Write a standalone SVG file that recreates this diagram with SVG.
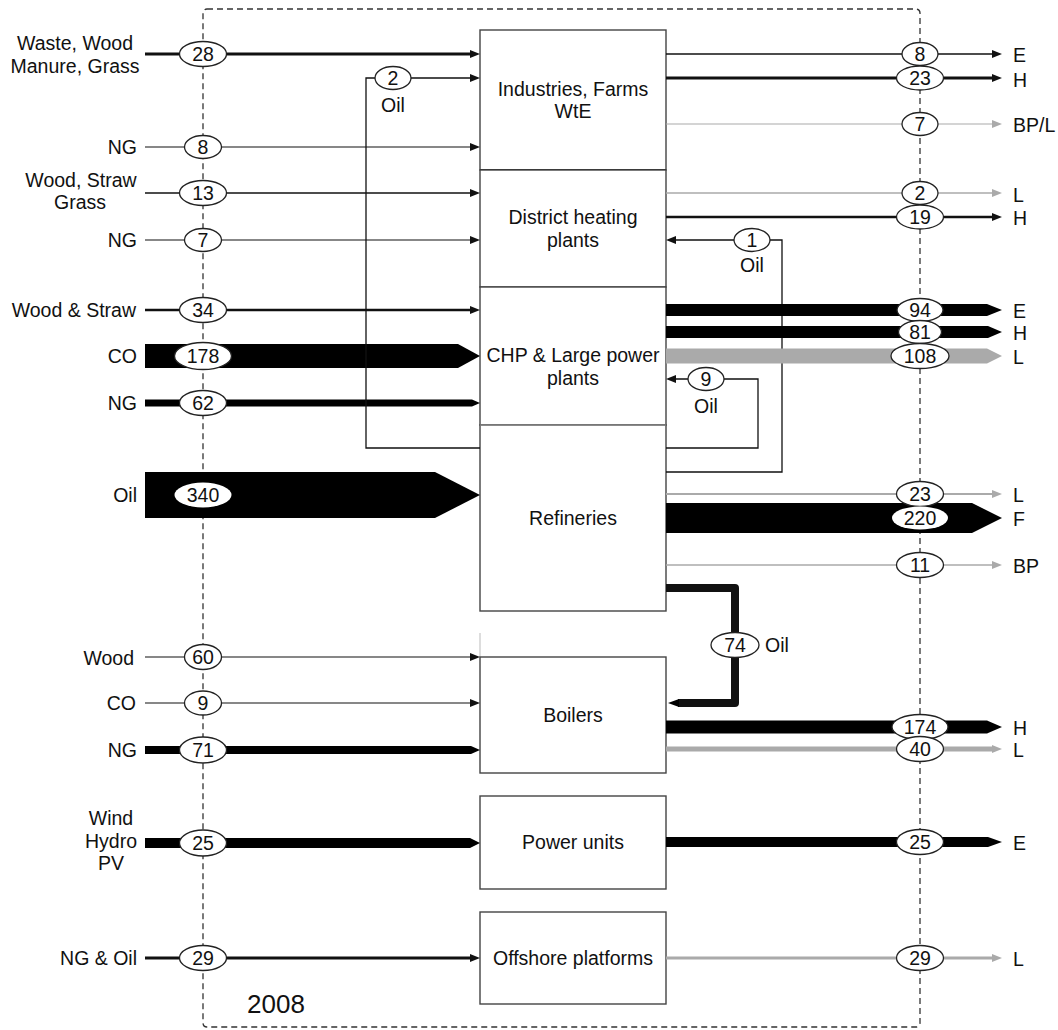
<svg xmlns="http://www.w3.org/2000/svg" width="1058" height="1030" viewBox="0 0 1058 1030">
<defs>
<style>
text{font-family:"Liberation Sans",Arial,sans-serif;font-size:19.5px;fill:#111}
.r{text-anchor:end}.m{text-anchor:middle}
.box{fill:#fff;stroke:#444;stroke-width:1.4}
.el{fill:#fff;stroke:#222;stroke-width:1.3}
.elw{fill:#fff;stroke:none}
.k{stroke:#111;fill:none}
.g{stroke:#aaa;fill:none}
.bk{fill:#000}
.bg{fill:#aaa}
.dash{fill:none;stroke:#333;stroke-width:1.3;stroke-dasharray:6,4}
</style>
<marker id="ab" markerWidth="10" markerHeight="8" refX="2" refY="4" orient="auto" markerUnits="userSpaceOnUse"><path d="M0,0 L10,4 L0,8 z" fill="#111"/></marker>
<marker id="ag" markerWidth="10" markerHeight="8" refX="2" refY="4" orient="auto" markerUnits="userSpaceOnUse"><path d="M0,0 L10,4 L0,8 z" fill="#aaa"/></marker>
</defs>
<rect width="1058" height="1030" fill="#fff"/>
<rect class="dash" x="203" y="9" width="717" height="1018" rx="4"/>

<g id="nodes">
<g id="n-industries"><rect class="box" x="480" y="30" width="186" height="140"/><line x1="480" y1="170" x2="666" y2="170" stroke="#222" stroke-width="2.2"/><text class="m" x="573" y="96">Industries, Farms</text><text class="m" x="573" y="118">WtE</text></g>
<g id="n-district"><rect class="box" x="480" y="170" width="186" height="117"/><text class="m" x="573" y="224">District heating</text><text class="m" x="573" y="247">plants</text></g>
<g id="n-chp"><rect class="box" x="480" y="287" width="186" height="138"/><text class="m" x="573" y="362">CHP &amp; Large power</text><text class="m" x="573" y="385">plants</text></g>
<g id="n-refineries"><rect class="box" x="480" y="425" width="186" height="186"/><line x1="480" y1="425" x2="666" y2="425" stroke="#999" stroke-width="1.2"/><text class="m" x="573" y="525">Refineries</text></g>
<g id="n-boilers"><line x1="480" y1="633" x2="480" y2="657" stroke="#bbb" stroke-width="1"/><rect class="box" x="480" y="657" width="186" height="116"/><text class="m" x="573" y="722">Boilers</text></g>
<g id="n-power"><rect class="box" x="480" y="796" width="186" height="93"/><text class="m" x="573" y="849">Power units</text></g>
<g id="n-offshore"><rect class="box" x="480" y="912" width="186" height="92"/><text class="m" x="573" y="965">Offshore platforms</text></g>
</g>

<g id="connectors">
<line class="k" x1="145" y1="54" x2="472" y2="54" stroke-width="3" marker-end="url(#ab)"/>
<line class="k" x1="145" y1="147" x2="472" y2="147" stroke-width="1.2" stroke="#333" marker-end="url(#ab)"/>
<line class="k" x1="145" y1="193" x2="472" y2="193" stroke-width="1.6" marker-end="url(#ab)"/>
<line class="k" x1="145" y1="240" x2="472" y2="240" stroke-width="1.2" stroke="#333" marker-end="url(#ab)"/>
<line class="k" x1="145" y1="310" x2="472" y2="310" stroke-width="2.5" marker-end="url(#ab)"/>
<polygon class="bk" points="145,344 458,344 480,356 458,368 145,368"/>
<polygon class="bk" points="145,399.5 472,399.5 480,403 472,406.5 145,406.5"/>
<polygon class="bk" points="145,472 435,472 480,495 435,518 145,518"/>
<line class="k" x1="145" y1="657" x2="472" y2="657" stroke-width="1.2" stroke="#444" marker-end="url(#ab)"/>
<line class="k" x1="145" y1="703" x2="472" y2="703" stroke-width="1.2" stroke="#444" marker-end="url(#ab)"/>
<polygon class="bk" points="145,746 471,746 480,750 471,754 145,754"/>
<polygon class="bk" points="145,838 470,838 480,843 470,848 145,848"/>
<line class="k" x1="145" y1="958" x2="472" y2="958" stroke-width="3" marker-end="url(#ab)"/>
<path class="k" d="M480,448 H366 V78 H472" stroke="#333" stroke-width="1.3" marker-end="url(#ab)"/>
<path class="k" d="M666,472 H782 V240 H674" stroke="#666" stroke-width="1.3" marker-end="url(#ab)"/>
<path class="k" d="M666,448 H758 V379 H674" stroke="#333" stroke-width="1.3" marker-end="url(#ab)"/>
<path class="k" d="M666,588 H735 V703 H678" stroke="#000" stroke-width="8" stroke-linejoin="round"/>
<polygon class="bk" points="679,699 668,703 679,707"/>
<line class="k" x1="666" y1="54" x2="994" y2="54" stroke-width="1.6" marker-end="url(#ab)"/>
<line class="k" x1="666" y1="78" x2="994" y2="78" stroke-width="3" marker-end="url(#ab)"/>
<line class="g" x1="666" y1="124" x2="994" y2="124" stroke-width="1.2" marker-end="url(#ag)"/>
<line class="g" x1="666" y1="193" x2="994" y2="193" stroke-width="1.5" marker-end="url(#ag)"/>
<line class="k" x1="666" y1="217" x2="994" y2="217" stroke-width="2.5" marker-end="url(#ab)"/>
<polygon class="bk" points="666,304 987,304 1002,310 987,316 666,316"/>
<polygon class="bk" points="666,326 988,326 1002,332 988,338 666,338"/>
<polygon class="bg" points="666,348.5 987,348.5 1002,356 987,363.5 666,363.5"/>
<line class="g" x1="666" y1="494" x2="994" y2="494" stroke-width="2" marker-end="url(#ag)"/>
<polygon class="bk" points="666,503 972,503 1002,518 972,533 666,533"/>
<line class="g" x1="666" y1="565" x2="994" y2="565" stroke-width="1.5" marker-end="url(#ag)"/>
<polygon class="bk" points="666,720.5 987,720.5 1002,727 987,733.5 666,733.5"/>
<line class="g" x1="666" y1="749" x2="994" y2="749" stroke-width="5" marker-end="url(#ag)"/>
<polygon class="bk" points="666,837 988,837 1002,842 988,847 666,847"/>
<line class="g" x1="666" y1="958" x2="994" y2="958" stroke-width="3" marker-end="url(#ag)"/>
</g>

<g id="values">
<ellipse class="el" cx="203" cy="54" rx="23.5" ry="12.5"/><text class="m" x="203" y="61">28</text>
<ellipse class="el" cx="203" cy="147" rx="18.5" ry="11.5"/><text class="m" x="203" y="154">8</text>
<ellipse class="el" cx="203" cy="193" rx="23.5" ry="12.5"/><text class="m" x="203" y="200">13</text>
<ellipse class="el" cx="203" cy="240" rx="18.5" ry="11.5"/><text class="m" x="203" y="247">7</text>
<ellipse class="el" cx="203" cy="310" rx="23.5" ry="12.5"/><text class="m" x="203" y="317">34</text>
<ellipse class="el" cx="203" cy="356" rx="28.5" ry="13.5"/><text class="m" x="203" y="363">178</text>
<ellipse class="el" cx="203" cy="403" rx="23.5" ry="12.5"/><text class="m" x="203" y="410">62</text>
<ellipse class="elw" cx="203" cy="495" rx="28.5" ry="12.5"/><text class="m" x="203" y="502">340</text>
<ellipse class="el" cx="203" cy="657" rx="18.5" ry="12.5"/><text class="m" x="203" y="664">60</text>
<ellipse class="el" cx="203" cy="703" rx="18.5" ry="12"/><text class="m" x="203" y="710">9</text>
<ellipse class="el" cx="203" cy="750" rx="23.5" ry="13"/><text class="m" x="203" y="757">71</text>
<ellipse class="el" cx="203" cy="843" rx="23.5" ry="13"/><text class="m" x="203" y="850">25</text>
<ellipse class="el" cx="203" cy="958" rx="23.5" ry="12.5"/><text class="m" x="203" y="965">29</text>

<ellipse class="el" cx="393" cy="78" rx="18" ry="11.5"/><text class="m" x="393" y="85">2</text>
<ellipse class="el" cx="752" cy="240" rx="18" ry="11.5"/><text class="m" x="752" y="247">1</text>
<ellipse class="el" cx="706" cy="379" rx="18" ry="11.5"/><text class="m" x="706" y="386">9</text>
<ellipse class="el" cx="735" cy="645" rx="24" ry="12.5"/><text class="m" x="735" y="652">74</text>

<ellipse class="el" cx="920" cy="54" rx="18" ry="11.5"/><text class="m" x="920" y="61">8</text>
<ellipse class="el" cx="920" cy="78" rx="23.5" ry="12"/><text class="m" x="920" y="85">23</text>
<ellipse class="el" cx="920" cy="124" rx="18" ry="11.5"/><text class="m" x="920" y="131">7</text>
<ellipse class="el" cx="920" cy="193" rx="18" ry="11.5"/><text class="m" x="920" y="200">2</text>
<ellipse class="el" cx="920" cy="217" rx="23.5" ry="12"/><text class="m" x="920" y="224">19</text>
<ellipse class="el" cx="920" cy="310" rx="23" ry="11.5"/><text class="m" x="920" y="317">94</text>
<ellipse class="el" cx="920" cy="332" rx="21.5" ry="11.5"/><text class="m" x="920" y="339">81</text>
<ellipse class="el" cx="920" cy="356" rx="29" ry="12.5"/><text class="m" x="920" y="363">108</text>
<ellipse class="el" cx="920" cy="494" rx="23.5" ry="12.5"/><text class="m" x="920" y="501">23</text>
<ellipse class="elw" cx="920" cy="518" rx="28" ry="11.5"/><text class="m" x="920" y="525">220</text>
<ellipse class="el" cx="920" cy="565" rx="23.5" ry="12.5"/><text class="m" x="920" y="572">11</text>
<ellipse class="el" cx="920" cy="727" rx="28" ry="12.5"/><text class="m" x="920" y="734">174</text>
<ellipse class="el" cx="920" cy="749" rx="23.5" ry="12.5"/><text class="m" x="920" y="756">40</text>
<ellipse class="el" cx="920" cy="842" rx="23.5" ry="12.5"/><text class="m" x="920" y="849">25</text>
<ellipse class="el" cx="920" cy="958" rx="23.5" ry="12.5"/><text class="m" x="920" y="965">29</text>
</g>

<g id="labels">
<text class="m" x="75" y="50">Waste, Wood</text>
<text class="m" x="75" y="72.5">Manure, Grass</text>
<text class="r" x="137" y="154">NG</text>
<text class="m" x="81" y="187">Wood, Straw</text>
<text class="m" x="80" y="208.5">Grass</text>
<text class="r" x="137" y="247">NG</text>
<text class="r" x="136" y="317">Wood &amp; Straw</text>
<text class="r" x="137" y="363">CO</text>
<text class="r" x="137" y="410">NG</text>
<text class="r" x="137" y="502">Oil</text>
<text class="r" x="134" y="664.5">Wood</text>
<text class="r" x="136" y="710">CO</text>
<text class="r" x="137" y="757">NG</text>
<text class="m" x="111" y="825">Wind</text>
<text class="m" x="111" y="848">Hydro</text>
<text class="m" x="111" y="870">PV</text>
<text class="r" x="137" y="965">NG &amp; Oil</text>
<text class="m" x="393" y="112">Oil</text>
<text class="m" x="752" y="272">Oil</text>
<text class="m" x="706" y="413">Oil</text>
<text x="765" y="652">Oil</text>
<text x="1013" y="62">E</text>
<text x="1013" y="87">H</text>
<text x="1013" y="132">BP/L</text>
<text x="1013" y="202">L</text>
<text x="1013" y="225">H</text>
<text x="1013" y="318">E</text>
<text x="1013" y="340">H</text>
<text x="1013" y="364">L</text>
<text x="1013" y="502">L</text>
<text x="1013" y="526">F</text>
<text x="1013" y="573">BP</text>
<text x="1013" y="735">H</text>
<text x="1013" y="757">L</text>
<text x="1013" y="850">E</text>
<text x="1013" y="966">L</text>
<text x="247" y="1013" style="font-size:26px">2008</text>
</g>
</svg>
